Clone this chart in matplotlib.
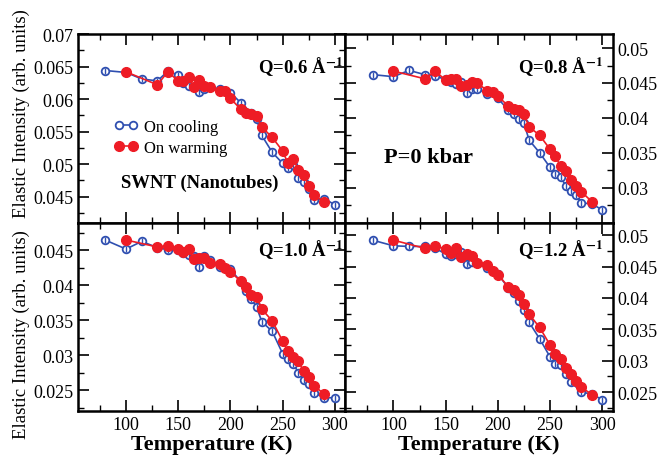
import numpy as np
import matplotlib.pyplot as plt

plt.rcParams['font.family'] = 'Liberation Serif'
plt.rcParams['mathtext.fontset'] = 'stix'

# temperatures (K)
t_cool = [80, 100, 115, 130, 140, 150, 155, 160, 165, 170, 175, 180, 190, 200, 210,
          215, 220, 225, 230, 240, 250, 255, 260, 265, 270, 275, 280, 290, 300]
t_cool_q06 = [80, 100, 115, 130, 140, 150, 155, 160, 170, 175, 180, 190, 200, 210,
              220, 225, 230, 240, 250, 255, 260, 265, 270, 275, 280, 290, 300]
t_cool_q12 = [80, 100, 115, 130, 140, 150, 155, 160, 165, 170, 175, 180, 190, 200, 210,
              215, 220, 225, 230, 240, 250, 255, 260, 265, 270, 280, 290, 300]
t_warm = [100, 130, 140, 150, 155, 160, 165, 170, 175, 180, 190, 195, 200, 210,
          215, 220, 225, 230, 240, 250, 255, 260, 265, 270, 275, 280, 290]

# elastic intensity, Q = 0.6 1/A
cool_q06 = [0.0644, 0.0641, 0.0631, 0.0628, 0.0643, 0.0637, 0.0625, 0.0620, 0.0611,
            0.0615, 0.0618, 0.0615, 0.0610, 0.0594, 0.0579, 0.0569, 0.0544, 0.0518,
            0.0501, 0.0494, 0.0498, 0.0479, 0.0472, 0.0462, 0.0444, 0.0447, 0.0437]
warm_q06 = [0.0642, 0.0622, 0.0642, 0.0628, 0.0628, 0.0634, 0.0618, 0.0629, 0.0620,
            0.0619, 0.0613, 0.0612, 0.0601, 0.0584, 0.0579, 0.0577, 0.0574, 0.0557,
            0.0541, 0.0520, 0.0501, 0.0508, 0.0491, 0.0483, 0.0467, 0.0453, 0.0441]

# Q = 0.8
cool_q08 = [0.0462, 0.0459, 0.0468, 0.0462, 0.0460, 0.0455, 0.0452, 0.0449, 0.0452,
            0.0435, 0.0442, 0.0442, 0.0434, 0.0428, 0.0411, 0.0405, 0.0398, 0.0392,
            0.0368, 0.0350, 0.0329, 0.0319, 0.0315, 0.0303, 0.0295, 0.0289, 0.0278,
            0.0277, 0.0268]
warm_q08 = [0.0467, 0.0456, 0.0467, 0.0454, 0.0455, 0.0456, 0.0446, 0.0447, 0.0451,
            0.0450, 0.0439, 0.0437, 0.0431, 0.0417, 0.0412, 0.0411, 0.0405, 0.0387,
            0.0375, 0.0355, 0.0345, 0.0331, 0.0324, 0.0311, 0.0302, 0.0294, 0.0280]

# Q = 1.0
cool_q10 = [0.0465, 0.0452, 0.0463, 0.0454, 0.0451, 0.0451, 0.0446, 0.0443, 0.0442,
            0.0427, 0.0442, 0.0437, 0.0427, 0.0423, 0.0405, 0.0392, 0.0380, 0.0369,
            0.0348, 0.0334, 0.0302, 0.0294, 0.0288, 0.0275, 0.0265, 0.0258, 0.0246,
            0.0239, 0.0239]
warm_q10 = [0.0465, 0.0455, 0.0457, 0.0452, 0.0448, 0.0452, 0.0438, 0.0439, 0.0439,
            0.0432, 0.0431, 0.0425, 0.0419, 0.0406, 0.0398, 0.0386, 0.0384, 0.0366,
            0.0349, 0.0320, 0.0306, 0.0297, 0.0291, 0.0277, 0.0268, 0.0256, 0.0244]

# Q = 1.2
cool_q12 = [0.0492, 0.0483, 0.0482, 0.0482, 0.0479, 0.0470, 0.0466, 0.0470, 0.0473,
            0.0454, 0.0457, 0.0455, 0.0447, 0.0438, 0.0416, 0.0408, 0.0395, 0.0380,
            0.0361, 0.0335, 0.0306, 0.0295, 0.0294, 0.0279, 0.0266, 0.0250, 0.0247,
            0.0238]
warm_q12 = [0.0492, 0.0479, 0.0483, 0.0478, 0.0472, 0.0479, 0.0465, 0.0470, 0.0467,
            0.0455, 0.0452, 0.0443, 0.0437, 0.0418, 0.0413, 0.0404, 0.0391, 0.0374,
            0.0353, 0.0325, 0.0311, 0.0302, 0.0288, 0.0279, 0.0268, 0.0258, 0.0246]

panels = [
    ('0.6', t_cool_q06, cool_q06, warm_q06, (0.041, 0.07), [0.045, 0.05, 0.055, 0.06, 0.065, 0.07]),
    ('0.8', t_cool, cool_q08, warm_q08, (0.025, 0.052), [0.03, 0.035, 0.04, 0.045, 0.05]),
    ('1.0', t_cool, cool_q10, warm_q10, (0.022, 0.049), [0.025, 0.03, 0.035, 0.04, 0.045]),
    ('1.2', t_cool_q12, cool_q12, warm_q12, (0.022, 0.052), [0.025, 0.03, 0.035, 0.04, 0.045, 0.05]),
]

blue = '#2f4fb0'
red = '#ee1c25'

fig, axes = plt.subplots(2, 2, figsize=(6.61, 4.56), dpi=100)
fig.subplots_adjust(left=0.118, right=0.927, bottom=0.0965, top=0.923, wspace=0, hspace=0)

for i, (ax, (q, tc, cool, warm, ylim, yt)) in enumerate(zip(axes.flat, panels)):
    ax.plot(tc, cool, '-o', color=blue, lw=1.2, ms=5.5, mfc='white', mec=blue, mew=1.3,
            label='On cooling')
    ax.plot(tc, cool, '|', color=blue, ms=4.5, mew=1.0)
    ax.plot(t_warm, warm, '-o', color=red, lw=1.2, ms=7, mfc=red, mec=red,
            label='On warming')

    ax.set_xticks([100, 150, 200, 250, 300])
    ax.set_xticks(np.arange(75, 310, 25), minor=True)
    ax.set_yticks(yt)
    ax.set_yticklabels([('%g' % v) for v in yt])
    ax.set_yticks(np.arange(0.0225, ylim[1], 0.0025), minor=True)
    ax.set_xlim(54, 310)
    ax.set_ylim(*ylim)

    right = i % 2 == 1
    bottom = i >= 2
    ax.tick_params(which='both', direction='in', top=True, right=True, left=True, bottom=True,
                   labelsize=13, labelleft=not right, labelright=right,
                   labelbottom=bottom)
    ax.tick_params(which='major', length=8, width=1.2)
    ax.tick_params(which='minor', length=4.5, width=1.0)
    for s in ax.spines.values():
        s.set_linewidth(1.8)

    ax.text(0.99 if not right else 0.965, 0.83 if not bottom else 0.86,
            'Q=%s Å$^{\\mathbf{-1}}$' % q, transform=ax.transAxes, ha='right', va='center',
            fontsize=13.5, fontweight='bold')

    if not right:
        ax.set_ylabel('Elastic Intensity (arb. units)', fontsize=13.5)
        ax.yaxis.set_label_coords(-0.18, 0.41 if bottom else 0.585)
    if bottom:
        ax.set_xlabel('Temperature (K)', fontsize=16, fontweight='bold', labelpad=1)

ax0 = axes[0, 0]
ax0.legend(loc='center left', bbox_to_anchor=(0.08, 0.45), frameon=False, fontsize=12,
           numpoints=2, handlelength=1.4, handletextpad=0.4, labelspacing=0.3)
ax0.text(0.455, 0.215, 'SWNT (Nanotubes)', transform=ax0.transAxes, ha='center',
         va='center', fontsize=13.5, fontweight='bold')
axes[0, 1].text(0.31, 0.35, 'P=0 kbar', transform=axes[0, 1].transAxes, ha='center',
                va='center', fontsize=16, fontweight='bold')

plt.savefig('out.png', dpi=100)
